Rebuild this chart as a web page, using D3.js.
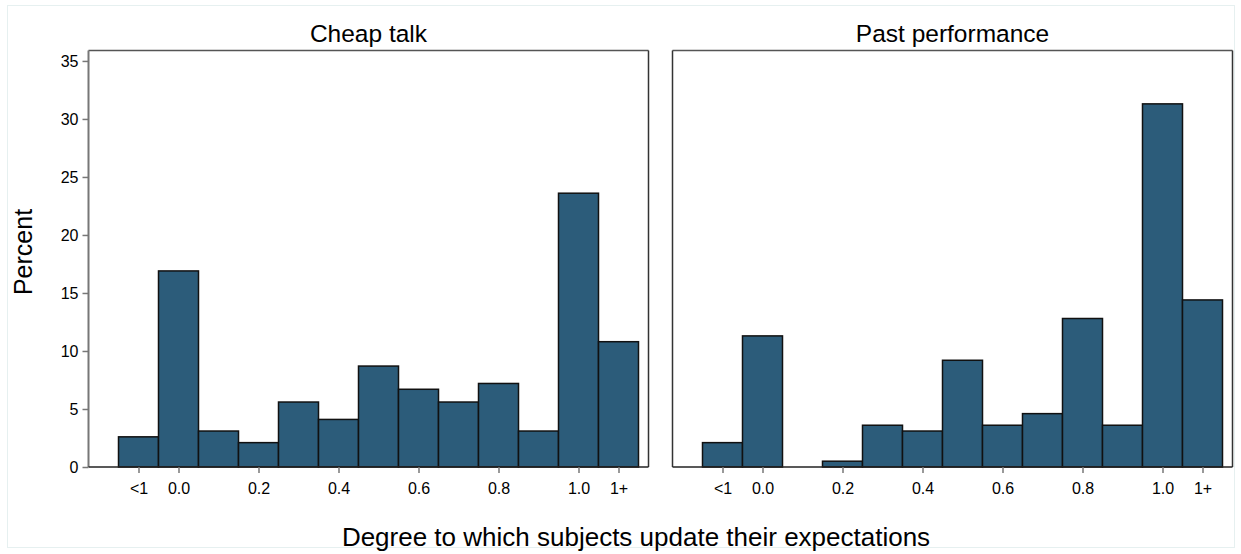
<!DOCTYPE html>
<html>
<head>
<meta charset="utf-8">
<script src="https://cdn.jsdelivr.net/npm/d3@7"></script>
<style>
  body { margin: 0; background: #fff; }
  svg text { font-family: "Liberation Sans", Arial, sans-serif; fill: #000; }
  .axis path.domain { display: none; }
  .axis line { stroke: #777; stroke-width: 1.5; }
  .axis text { font-size: 16px; }
</style>
</head>
<body>
<svg id="chart"></svg>
<script>
// --- data ---
const binCenters = [-0.1, 0.0, 0.1, 0.2, 0.3, 0.4, 0.5, 0.6, 0.7, 0.8, 0.9, 1.0, 1.1];
const cheapTalk = [2.6, 16.9, 3.1, 2.1, 5.6, 4.1, 8.7, 6.7, 5.6, 7.2, 3.1, 23.6, 10.8];
const pastPerformance = [2.1, 11.3, 0, 0.5, 3.6, 3.1, 9.2, 3.6, 4.6, 12.8, 3.6, 31.3, 14.4];
const panelTitles = ['Cheap talk', 'Past performance'];
const xTickValues = [-0.1, 0.0, 0.2, 0.4, 0.6, 0.8, 1.0, 1.1];
const xTickLabels = ['<1', '0.0', '0.2', '0.4', '0.6', '0.8', '1.0', '1+'];
const yTickValues = [0, 5, 10, 15, 20, 25, 30, 35];

const W = 1241, H = 554;
const binWidth = 0.1;
const barColor = '#2c5c7a';

const svg = d3.select('#chart').attr('width', W).attr('height', H);

// faint outer frame
svg.append('rect')
    .attr('x', 7.5).attr('y', 5.5)
    .attr('width', 1227).attr('height', 542)
    .attr('fill', 'none')
    .attr('stroke', '#e6f0f0');

const plotTop = 50.5, plotBottom = 467, panelW = 560;
const panelX = [88.5, 672.5];
const series = [cheapTalk, pastPerformance];

const yScale = d3.scaleLinear().domain([0, 35.9]).range([plotBottom, plotTop]);

series.forEach((values, i) => {
    const x0 = panelX[i];
    const xScale = d3.scaleLinear().domain([-0.225, 1.175]).range([x0, x0 + panelW]);
    const g = svg.append('g');

    // bars
    const bins = binCenters.map((c, j) => ({ c, v: values[j] })).filter(d => d.v > 0);
    g.selectAll('rect.bar')
        .data(bins)
        .enter().append('rect')
        .attr('class', 'bar')
        .attr('x', d => xScale(d.c - binWidth / 2))
        .attr('y', d => yScale(d.v))
        .attr('width', d => xScale(d.c + binWidth / 2) - xScale(d.c - binWidth / 2))
        .attr('height', d => yScale(0) - yScale(d.v))
        .attr('fill', barColor)
        .attr('stroke', '#111')
        .attr('stroke-width', 1.5);

    // plot box
    g.append('line') // top
        .attr('x1', x0).attr('x2', x0 + panelW)
        .attr('y1', plotTop).attr('y2', plotTop)
        .attr('stroke', '#555').attr('stroke-width', 1.5);
    g.append('line') // right
        .attr('x1', x0 + panelW).attr('x2', x0 + panelW)
        .attr('y1', plotTop).attr('y2', plotBottom)
        .attr('stroke', '#333').attr('stroke-width', 1.5);
    g.append('line') // left
        .attr('x1', x0).attr('x2', x0)
        .attr('y1', plotTop).attr('y2', plotBottom)
        .attr('stroke', i === 0 ? '#777' : '#333').attr('stroke-width', i === 0 ? 2 : 1.5);
    g.append('line') // bottom
        .attr('x1', x0).attr('x2', x0 + panelW)
        .attr('y1', plotBottom).attr('y2', plotBottom)
        .attr('stroke', '#222').attr('stroke-width', 1.5);

    // x axis
    g.append('g')
        .attr('class', 'axis')
        .attr('transform', `translate(0,${plotBottom})`)
        .call(d3.axisBottom(xScale)
            .tickValues(xTickValues)
            .tickFormat((d, k) => xTickLabels[k])
            .tickSize(6)
            .tickPadding(10));

    // y axis on the first panel only
    if (i === 0) {
        g.append('g')
            .attr('class', 'axis')
            .attr('transform', `translate(${x0},0)`)
            .call(d3.axisLeft(yScale)
                .tickValues(yTickValues)
                .tickSize(6)
                .tickPadding(4));
    }

    // panel title
    svg.append('text')
        .attr('x', x0 + panelW / 2)
        .attr('y', 42)
        .attr('text-anchor', 'middle')
        .style('font-size', '24.5px')
        .text(panelTitles[i]);
});

// axis titles
svg.append('text')
    .attr('transform', `translate(32,252) rotate(-90)`)
    .attr('text-anchor', 'middle')
    .style('font-size', '25px')
    .text('Percent');

svg.append('text')
    .attr('x', 636)
    .attr('y', 546)
    .attr('text-anchor', 'middle')
    .style('font-size', '26px')
    .text('Degree to which subjects update their expectations');
</script>
</body>
</html>
